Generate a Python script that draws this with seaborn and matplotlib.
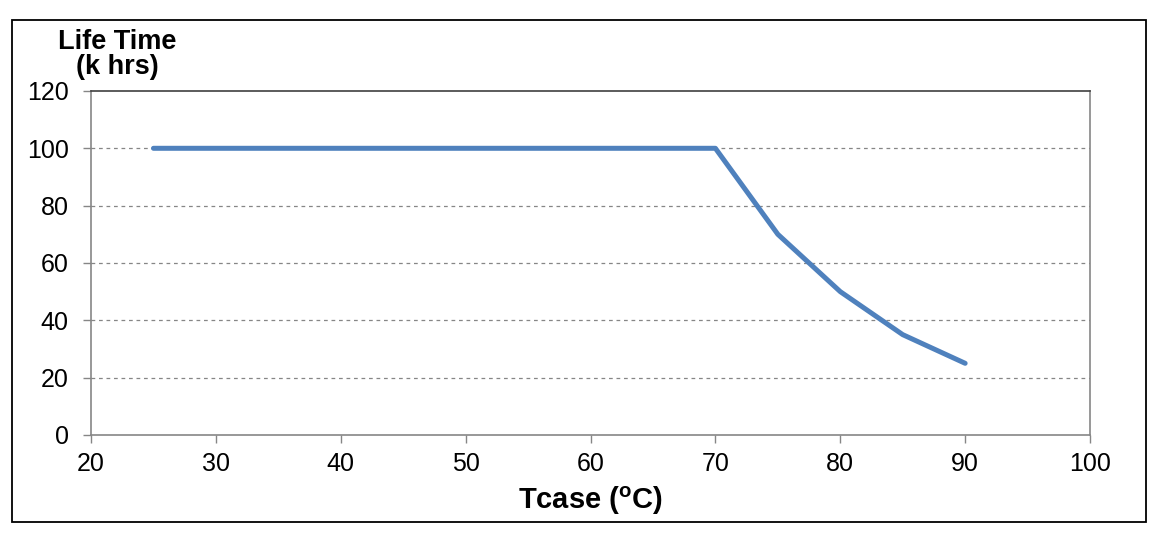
import seaborn as sns
import matplotlib.pyplot as plt
import pandas as pd
from matplotlib.patches import Rectangle

# curve
tcase = [25, 70, 75, 80, 85, 90]
life_khrs = [100, 100, 70, 50, 35, 25]
x_ticks = [20, 30, 40, 50, 60, 70, 80, 90, 100]
y_ticks = [0, 20, 40, 60, 80, 100, 120]

data = pd.DataFrame({'tcase': tcase, 'life': life_khrs})

sns.set_theme(style='white')
plt.rcParams['font.family'] = ['Liberation Sans', 'DejaVu Sans']
plt.rcParams['text.color'] = 'black'

fig = plt.figure(figsize=(11.58, 5.37), dpi=100)
ax = fig.add_axes([0.0786, 0.190, 0.8627, 0.6406])

sns.lineplot(x='tcase', y='life', data=data, color='#4F81BD', linewidth=3.6,
             solid_capstyle='round', ax=ax)

ax.set_xlim(20, 100)
ax.set_ylim(0, 120)
ax.set_xticks(x_ticks)
ax.set_yticks(y_ticks)
ax.tick_params(axis='both', bottom=True, left=True, labelsize=18,
               labelcolor='black', color='#868686', direction='out',
               length=6, width=1)
ax.tick_params(axis='x', pad=6.5)
ax.tick_params(axis='y', pad=10)

for y in y_ticks[1:-1]:
    ax.axhline(y, color='#868686', linestyle=(0, (3, 3)), linewidth=0.9, zorder=0)

for side in ['left', 'bottom', 'right']:
    ax.spines[side].set_color('#868686')
    ax.spines[side].set_linewidth(1.2)
ax.spines['top'].set_color('#404040')
ax.spines['top'].set_linewidth(1.2)

ax.set_xlabel('Tcase ($\\mathregular{^o}$C)', fontsize=21, fontweight='bold',
              color='black', labelpad=6)
ax.set_ylabel('')
fig.text(0.101, 0.898, 'Life Time\n(k hrs)', fontsize=19.5, fontweight='bold',
         ha='center', va='center', linespacing=0.95)

# outer frame around the chart
fig.patches.append(Rectangle((12 / 1158, 1 - 522 / 537), 1134 / 1158, 502 / 537,
                             transform=fig.transFigure, fill=False,
                             edgecolor='#000000', linewidth=1.3))

plt.savefig('out.png', dpi=100)
plt.close()
